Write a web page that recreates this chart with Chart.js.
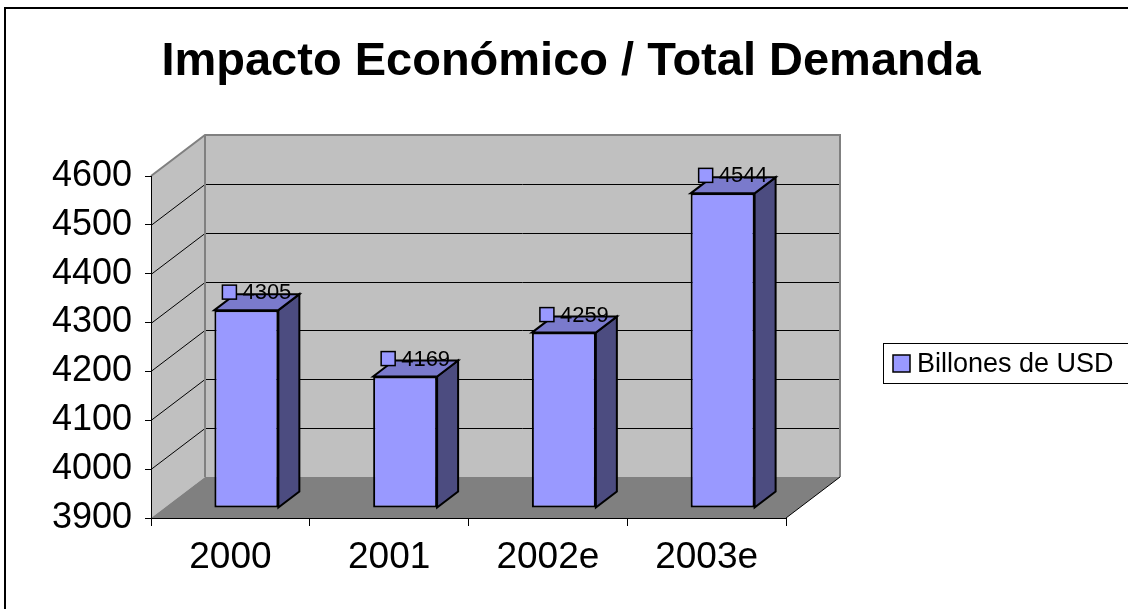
<!DOCTYPE html>
<html><head><meta charset="utf-8">
<script src="https://cdn.jsdelivr.net/npm/chart.js@4.4.1/dist/chart.umd.min.js"></script>
<style>html,body{margin:0;padding:0;background:#fff;}#wrap{width:1128px;height:609px;position:relative;}</style>
</head><body><div id="wrap"><canvas id="c" width="1128" height="609"></canvas></div>
<script>
const categories = ['2000', '2001', '2002e', '2003e'];
const values = [4305, 4169, 4259, 4544];
const seriesName = 'Billones de USD';
const yTicks = [3900, 4000, 4100, 4200, 4300, 4400, 4500, 4600];
const titleText = 'Impacto Económico / Total Demanda';

const FONT = '"Liberation Sans", Arial, Helvetica, sans-serif';
const DEPTH = {dx: 54, dy: -41};
const BAR_SHIFT = {dx: 16, dy: -10};
const BAR_DEPTH = {dx: 21, dy: -16};
const FRONT = '#9999FF', TOP = '#7A7ACC', SIDE = '#4C4C80';

const threeD = {
  id: 'threeD',
  beforeDraw(chart) {
    const ctx = chart.ctx, xs = chart.scales.x, ys = chart.scales.y;
    const x0 = xs.left, x1 = xs.right;
    const yT = ys.getPixelForValue(ys.max), yB = ys.getPixelForValue(ys.min);
    const {dx, dy} = DEPTH;
    ctx.save();
    ctx.fillStyle = '#fff';
    ctx.fillRect(0, 0, chart.width, chart.height);
    // back wall
    ctx.fillStyle = '#C0C0C0';
    ctx.fillRect(x0 + dx, yT + dy, x1 - x0, yB - yT);
    // left wall
    ctx.beginPath();
    ctx.moveTo(x0, yT); ctx.lineTo(x0 + dx, yT + dy); ctx.lineTo(x0 + dx, yB + dy); ctx.lineTo(x0, yB); ctx.closePath();
    ctx.fill();
    // floor
    ctx.fillStyle = '#808080';
    ctx.beginPath();
    ctx.moveTo(x0, yB); ctx.lineTo(x0 + dx, yB + dy); ctx.lineTo(x1 + dx, yB + dy); ctx.lineTo(x1, yB); ctx.closePath();
    ctx.fill();
    // gridlines
    ctx.strokeStyle = '#000'; ctx.lineWidth = 1;
    yTicks.forEach(v => {
      if (v === ys.min || v === ys.max) return;
      const y = Math.round(ys.getPixelForValue(v)) + 0.5;
      ctx.beginPath();
      ctx.moveTo(x0, y); ctx.lineTo(x0 + dx, y + dy); ctx.lineTo(x1 + dx, y + dy);
      ctx.stroke();
    });
    // wall edges (grey)
    ctx.strokeStyle = '#808080'; ctx.lineWidth = 2;
    ctx.beginPath();
    ctx.moveTo(x0, yT); ctx.lineTo(x0 + dx, yT + dy); ctx.lineTo(x1 + dx, yT + dy); ctx.lineTo(x1 + dx, yB + dy);
    ctx.moveTo(x0 + dx, yT + dy); ctx.lineTo(x0 + dx, yB + dy);
    ctx.stroke();
    // floor right edge
    ctx.strokeStyle = '#000'; ctx.lineWidth = 1;
    ctx.beginPath();
    ctx.moveTo(x1, yB); ctx.lineTo(x1 + dx, yB + dy);
    ctx.stroke();
    // outer border
    ctx.strokeStyle = '#000'; ctx.lineWidth = 2;
    ctx.strokeRect(5, 8, 1300, 800);
    ctx.restore();
  },
  beforeDatasetsDraw(chart) {
    const ctx = chart.ctx;
    const meta = chart.getDatasetMeta(0);
    ctx.save();
    ctx.lineWidth = 2; ctx.strokeStyle = '#000'; ctx.lineJoin = 'miter';
    meta.data.forEach(el => {
      const xl = el.x - el.width / 2 + BAR_SHIFT.dx, xr = el.x + el.width / 2 + BAR_SHIFT.dx;
      const yt = el.y + BAR_SHIFT.dy, yb = el.base + BAR_SHIFT.dy;
      const {dx, dy} = BAR_DEPTH;
      // side
      ctx.fillStyle = SIDE;
      ctx.beginPath();
      ctx.moveTo(xr, yt); ctx.lineTo(xr + dx, yt + dy); ctx.lineTo(xr + dx, yb + dy); ctx.lineTo(xr, yb); ctx.closePath();
      ctx.fill(); ctx.stroke();
      // top
      ctx.fillStyle = TOP;
      ctx.beginPath();
      ctx.moveTo(xl, yt); ctx.lineTo(xl + dx, yt + dy); ctx.lineTo(xr + dx, yt + dy); ctx.lineTo(xr, yt); ctx.closePath();
      ctx.fill(); ctx.stroke();
    });
    ctx.restore();
    ctx.save();
    ctx.translate(BAR_SHIFT.dx, BAR_SHIFT.dy);
  },
  afterDatasetsDraw(chart) {
    const ctx = chart.ctx;
    ctx.restore();
    const meta = chart.getDatasetMeta(0);
    const data = chart.data.datasets[0].data;
    ctx.save();
    ctx.font = '22px ' + FONT;
    ctx.textBaseline = 'middle'; ctx.textAlign = 'left';
    meta.data.forEach((el, i) => {
      const txt = String(data[i]);
      const tw = ctx.measureText(txt).width;
      const cx = el.x + BAR_SHIFT.dx + BAR_DEPTH.dx / 2;
      const cy = el.y + BAR_SHIFT.dy - 18;
      const total = 14 + 6 + tw;
      const left = cx - total / 2;
      ctx.fillStyle = FRONT; ctx.strokeStyle = '#000'; ctx.lineWidth = 1.5;
      ctx.fillRect(left, cy - 7, 14, 14);
      ctx.strokeRect(left, cy - 7, 14, 14);
      ctx.fillStyle = '#000';
      ctx.fillText(txt, left + 20, cy + 1);
    });
    ctx.restore();
  },
  afterDraw(chart) {
    const ctx = chart.ctx;
    ctx.save();
    // title
    ctx.fillStyle = '#000';
    ctx.font = 'bold 47px ' + FONT;
    ctx.textAlign = 'center'; ctx.textBaseline = 'alphabetic';
    ctx.fillText(titleText, 571, 75);
    // legend
    ctx.lineWidth = 1; ctx.strokeStyle = '#000';
    ctx.fillStyle = '#fff';
    ctx.fillRect(883.5, 343.5, 260, 40);
    ctx.strokeRect(883.5, 343.5, 260, 40);
    ctx.fillStyle = FRONT; ctx.lineWidth = 1.5;
    ctx.fillRect(893, 355, 17, 17);
    ctx.strokeRect(893, 355, 17, 17);
    ctx.fillStyle = '#000';
    ctx.font = '27px ' + FONT;
    ctx.textAlign = 'left'; ctx.textBaseline = 'middle';
    ctx.fillText(chart.data.datasets[0].label, 917, 365);
    ctx.restore();
  }
};

new Chart(document.getElementById('c'), {
  type: 'bar',
  data: {
    labels: categories,
    datasets: [{
      label: seriesName,
      data: values,
      base: yTicks[0],
      backgroundColor: FRONT,
      borderColor: '#000',
      borderWidth: 2,
      borderSkipped: false,
      barPercentage: 0.403,
      categoryPercentage: 1.0,
      clip: false
    }]
  },
  options: {
    responsive: false,
    animation: false,
    devicePixelRatio: 1,
    layout: {padding: {left: 0, right: 342, top: 176, bottom: 0}},
    plugins: {legend: {display: false}, title: {display: false}, tooltip: {enabled: false}},
    scales: {
      x: {
        offset: true,
        grid: {offset: true, drawOnChartArea: false, drawTicks: true, tickLength: 8, color: '#000'},
        border: {display: true, color: '#000', width: 1},
        ticks: {font: {family: FONT, size: 37}, color: '#000', padding: 10, maxRotation: 0, autoSkip: false},
        afterFit: s => { s.height = 91; }
      },
      y: {
        min: yTicks[0], max: yTicks[yTicks.length - 1],
        grid: {drawOnChartArea: false, drawTicks: true, tickLength: 6, color: '#000'},
        border: {display: true, color: '#000', width: 1},
        ticks: {font: {family: FONT, size: 36}, color: '#000', padding: 13, callback: v => String(v)},
        afterBuildTicks: s => { s.ticks = yTicks.map(v => ({value: v})); },
        afterFit: s => { s.width = 151; }
      }
    }
  },
  plugins: [threeD]
});
</script>
</body></html>
